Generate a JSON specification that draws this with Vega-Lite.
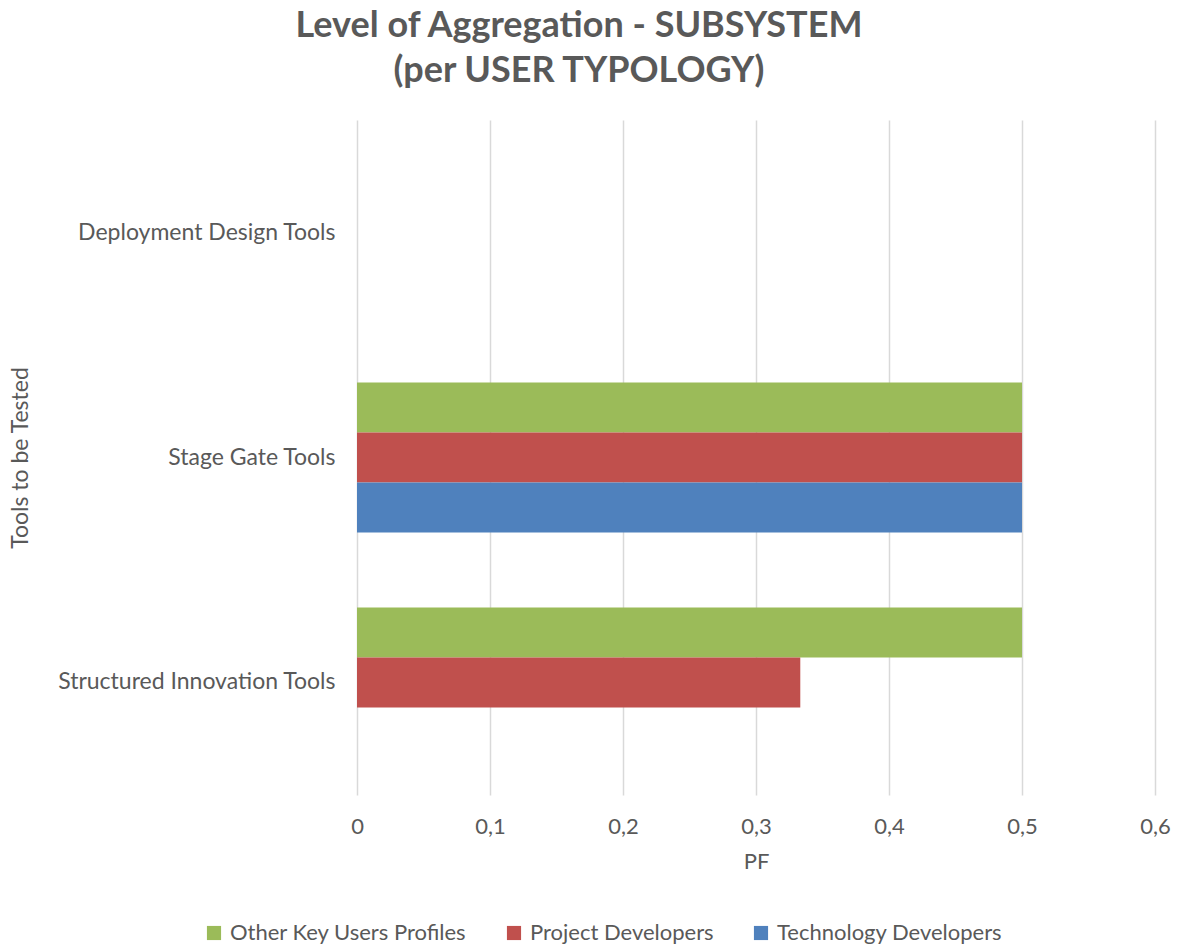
{
  "$schema": "https://vega.github.io/schema/vega-lite/v6.json",
  "autosize": "none",
  "width": 798,
  "height": 675,
  "padding": {"left": 357, "top": 120, "right": 24, "bottom": 151},
  "background": "white",
  "config": {
    "font": "Lato",
    "view": {"stroke": null},
    "axis": {"labelColor": "#595959", "titleColor": "#595959", "labelFont": "Lato", "titleFont": "Lato", "titleFontWeight": "normal"},
    "legend": {"labelColor": "#595959", "labelFont": "Lato"}
  },
  "title": {
    "text": ["Level of Aggregation - SUBSYSTEM", "(per USER TYPOLOGY)"],
    "fontSize": 36,
    "fontWeight": "bold",
    "color": "#595959",
    "font": "Lato",
    "lineHeight": 45,
    "anchor": "middle",
    "dx": -177,
    "offset": 30
  },
  "data": {
    "values": [
      {"tool": "Stage Gate Tools", "profile": "Other Key Users Profiles", "pf": 0.5},
      {"tool": "Stage Gate Tools", "profile": "Project Developers", "pf": 0.5},
      {"tool": "Stage Gate Tools", "profile": "Technology Developers", "pf": 0.5},
      {"tool": "Structured Innovation Tools", "profile": "Other Key Users Profiles", "pf": 0.5},
      {"tool": "Structured Innovation Tools", "profile": "Project Developers", "pf": 0.3333}
    ]
  },
  "mark": {"type": "bar"},
  "encoding": {
    "y": {
      "field": "tool",
      "type": "nominal",
      "title": "Tools to be Tested",
      "scale": {"domain": ["Deployment Design Tools", "Stage Gate Tools", "Structured Innovation Tools"], "paddingInner": 0.333, "paddingOuter": 0.1667},
      "axis": {"domain": false, "ticks": false, "labelPadding": 22, "labelFontSize": 23, "labelLimit": 500, "titleFontSize": 23, "titleX": -337, "titleBaseline": "middle"}
    },
    "yOffset": {
      "field": "profile",
      "type": "nominal",
      "scale": {"domain": ["Other Key Users Profiles", "Project Developers", "Technology Developers"], "paddingInner": 0, "paddingOuter": 0}
    },
    "x": {
      "field": "pf",
      "type": "quantitative",
      "title": "PF",
      "scale": {"domain": [0, 0.6], "nice": false},
      "axis": {"values": [0, 0.1, 0.2, 0.3, 0.4, 0.5, 0.6], "format": ".1~f", "labelExpr": "replace(datum.label, '.', ',')", "labelFlush": false, "domain": false, "ticks": false, "grid": true, "gridColor": "#D9D9D9", "gridWidth": 1.5, "labelPadding": 21, "labelFontSize": 22, "titleFontSize": 22, "titlePadding": 14}
    },
    "color": {
      "field": "profile",
      "type": "nominal",
      "title": null,
      "scale": {"domain": ["Other Key Users Profiles", "Project Developers", "Technology Developers"], "range": ["#9BBB59", "#C0504D", "#4F81BD"]},
      "legend": {"orient": "none", "legendX": -154, "legendY": 802, "direction": "horizontal", "symbolType": "square", "symbolSize": 200, "symbolStrokeWidth": 0, "symbolOpacity": 1, "labelFontSize": 22, "columnPadding": 36, "labelOffset": 5, "labelLimit": 400}
    }
  }
}
